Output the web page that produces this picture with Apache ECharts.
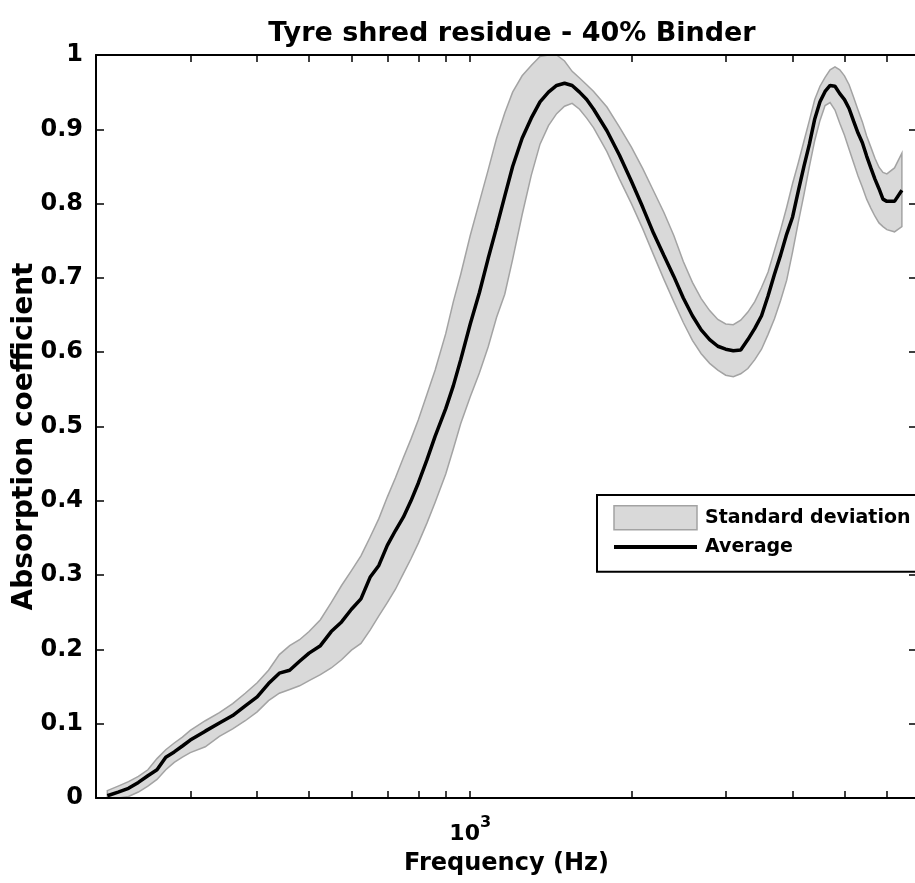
<!DOCTYPE html>
<html>
<head>
<meta charset="utf-8">
<script src="https://cdn.jsdelivr.net/npm/echarts@6/dist/echarts.min.js"></script>
<style>
  html, body { margin: 0; padding: 0; overflow: hidden; background: #fff; }
  #chart { width: 920px; height: 883px; }
</style>
</head>
<body>
<div id="chart"></div>
<script>
// frequency points (Hz)
const freqs = [
  210, 220, 230, 240, 250, 260, 270, 280, 290, 300,
  320, 340, 360, 380, 400, 420, 440, 460, 480, 500,
  525, 550, 575, 600, 625, 650, 675, 700, 725, 750,
  775, 800, 830, 860, 900, 930, 960, 1000, 1040, 1080,
  1120, 1160, 1200, 1250, 1300, 1350, 1400, 1450, 1500, 1550,
  1600, 1650, 1700, 1800, 1900, 2000, 2100, 2200, 2300, 2400,
  2500, 2600, 2700, 2800, 2900, 3000, 3100, 3200, 3300, 3400,
  3500, 3600, 3700, 3800, 3900, 4000, 4100, 4200, 4300, 4400,
  4500, 4600, 4700, 4800, 4900, 5000, 5100, 5200, 5300, 5400,
  5500, 5600, 5700, 5800, 5900, 6000, 6200, 6400
];
const average = [
  0.003, 0.008, 0.013, 0.021, 0.030, 0.038, 0.055, 0.062, 0.070, 0.078,
  0.090, 0.101, 0.111, 0.124, 0.136, 0.154, 0.168, 0.172, 0.184, 0.195,
  0.205, 0.224, 0.237, 0.254, 0.268, 0.297, 0.313, 0.340, 0.360, 0.378,
  0.400, 0.424, 0.455, 0.487, 0.524, 0.555, 0.590, 0.638, 0.680, 0.726,
  0.768, 0.810, 0.850, 0.888, 0.915, 0.937, 0.950, 0.959, 0.962, 0.959,
  0.950, 0.940, 0.927, 0.898, 0.865, 0.830, 0.795, 0.760, 0.730, 0.702,
  0.673, 0.649, 0.630, 0.617, 0.608, 0.604, 0.602, 0.603, 0.617, 0.632,
  0.649, 0.676, 0.705, 0.731, 0.759, 0.782, 0.817, 0.850, 0.880, 0.914,
  0.937, 0.951, 0.959, 0.958, 0.948, 0.940, 0.928, 0.911, 0.895, 0.882,
  0.864, 0.848, 0.833, 0.820, 0.806, 0.803, 0.803, 0.818
];
const upperBound = [
  0.010, 0.016, 0.022, 0.029, 0.038, 0.053, 0.065, 0.074, 0.082, 0.091,
  0.104, 0.115, 0.127, 0.141, 0.155, 0.172, 0.193, 0.205, 0.213, 0.224,
  0.240, 0.263, 0.286, 0.306, 0.326, 0.351, 0.376, 0.405, 0.431, 0.458,
  0.483, 0.509, 0.543, 0.576, 0.625, 0.668, 0.705, 0.757, 0.802, 0.845,
  0.888, 0.922, 0.950, 0.972, 0.986, 0.998, 1.000, 1.000, 0.992, 0.978,
  0.969, 0.960, 0.951, 0.930, 0.903, 0.876, 0.847, 0.817, 0.788, 0.757,
  0.722, 0.694, 0.672, 0.656, 0.644, 0.638, 0.637, 0.643, 0.654, 0.668,
  0.687, 0.708, 0.737, 0.765, 0.795, 0.827, 0.855, 0.884, 0.912, 0.940,
  0.958, 0.970, 0.980, 0.984, 0.980, 0.972, 0.960, 0.943, 0.926, 0.910,
  0.891, 0.876, 0.861, 0.849, 0.842, 0.840, 0.848, 0.868
];
const lowerBound = [
  0.000, 0.000, 0.002, 0.008, 0.016, 0.025, 0.038, 0.048, 0.055, 0.061,
  0.069, 0.083, 0.093, 0.104, 0.116, 0.131, 0.141, 0.146, 0.151, 0.158,
  0.166, 0.175, 0.186, 0.199, 0.208, 0.226, 0.245, 0.263, 0.281, 0.302,
  0.322, 0.343, 0.370, 0.398, 0.436, 0.470, 0.504, 0.540, 0.572, 0.607,
  0.647, 0.678, 0.725, 0.785, 0.838, 0.880, 0.905, 0.921, 0.931, 0.935,
  0.927, 0.915, 0.902, 0.870, 0.833, 0.800, 0.766, 0.731, 0.698, 0.668,
  0.640, 0.616, 0.598, 0.585, 0.576, 0.569, 0.567, 0.571, 0.578, 0.590,
  0.604, 0.624, 0.645, 0.670, 0.697, 0.735, 0.775, 0.812, 0.850, 0.885,
  0.912, 0.932, 0.936, 0.926, 0.908, 0.892, 0.873, 0.855, 0.837, 0.822,
  0.806, 0.794, 0.783, 0.774, 0.769, 0.765, 0.762, 0.769
];
const xTickValues = [300, 400, 500, 600, 700, 800, 900, 1000, 2000, 3000, 4000, 5000, 6000];
const xLabelValues = [1000];

const font = 'DejaVu Sans, Verdana, sans-serif';
const bandFill = '#d9d9d9';
const bandEdge = '#a3a3a3';

const chart = echarts.init(document.getElementById('chart'));

const axisLine = { show: true, onZero: false, lineStyle: { color: '#000', width: 2 } };
const tickStyle = { color: '#000', width: 1.5 };

chart.setOption({
  animation: false,
  backgroundColor: '#fff',
  title: {
    text: 'Tyre shred residue - 40% Binder',
    left: 507,
    top: 15,
    textAlign: 'center',
    textStyle: { fontFamily: font, fontWeight: 'bold', fontSize: 27, color: '#000' }
  },
  grid: { left: 96, right: 3, top: 55, bottom: 85, containLabel: false, outerBoundsMode: 'none' },
  legend: {
    orient: 'vertical',
    left: 597,
    top: 495,
    z: 20,
    selectedMode: false,
    backgroundColor: '#fff',
    borderColor: '#000',
    borderWidth: 2,
    borderRadius: 0,
    padding: [10, 40, 15, 15],
    itemWidth: 83,
    itemHeight: 24,
    itemGap: 7,
    textStyle: { fontFamily: font, fontWeight: 'bold', fontSize: 19, color: '#000', padding: [0, 0, 0, 3] },
    data: [
      { name: 'Standard deviation', icon: 'rect',
        itemStyle: { color: bandFill, borderColor: bandEdge, borderWidth: 1.5 } },
      { name: 'Average', itemStyle: { opacity: 0 }, lineStyle: { color: '#000', width: 4 } }
    ]
  },
  xAxis: [
    {
      type: 'log',
      min: 200,
      max: 6830,
      position: 'bottom',
      z: 10,
      name: 'Frequency (Hz)',
      nameLocation: 'middle',
      nameGap: 54,
      nameTextStyle: { fontFamily: font, fontWeight: 'bold', fontSize: 24, color: '#000' },
      axisLine: axisLine,
      axisTick: { show: true, inside: true, length: 7, customValues: xTickValues, lineStyle: tickStyle },
      axisLabel: {
        customValues: xLabelValues,
        margin: 17,
        formatter: () => '{b|10}{s|3}',
        rich: {
          b: { fontFamily: font, fontWeight: 'bold', fontSize: 22, color: '#000', lineHeight: 30, verticalAlign: 'bottom' },
          s: { fontFamily: font, fontWeight: 'bold', fontSize: 16, color: '#000', verticalAlign: 'top' }
        }
      },
      splitLine: { show: false },
      minorTick: { show: false }
    },
    {
      type: 'log',
      min: 200,
      max: 6830,
      position: 'top',
      z: 10,
      axisLine: axisLine,
      axisTick: { show: true, inside: true, length: 7, customValues: xTickValues, lineStyle: tickStyle },
      axisLabel: { show: false },
      splitLine: { show: false }
    }
  ],
  yAxis: [
    {
      type: 'value',
      min: 0,
      max: 1,
      interval: 0.1,
      position: 'left',
      z: 10,
      name: 'Absorption coefficient',
      nameLocation: 'middle',
      nameRotate: 90,
      nameGap: 57,
      nameMoveOverlap: false,
      nameTextStyle: { fontFamily: font, fontWeight: 'bold', fontSize: 28, color: '#000', padding: [0, 20, 0, 0] },
      axisLine: axisLine,
      axisTick: { show: true, inside: true, length: 8, lineStyle: tickStyle },
      axisLabel: {
        margin: 13,
        fontFamily: font, fontWeight: 'bold', fontSize: 24, color: '#000',
        formatter: (v) => (v === 0 || v === 1) ? String(v) : v.toFixed(1)
      },
      splitLine: { show: false }
    },
    {
      type: 'value',
      min: 0,
      max: 1,
      interval: 0.1,
      position: 'right',
      z: 10,
      axisLine: axisLine,
      axisTick: { show: true, inside: true, length: 8, lineStyle: tickStyle },
      axisLabel: { show: false },
      splitLine: { show: false }
    }
  ],
  series: [
    {
      // standard deviation band: one polygon, upper edge forward, lower edge back
      name: 'Standard deviation',
      type: 'custom',
      clip: true,
      data: freqs.map((f, i) => [f, lowerBound[i], upperBound[i]]),
      encode: { x: 0, y: [1, 2] },
      itemStyle: { color: bandFill, borderColor: bandEdge, borderWidth: 1.5 },
      renderItem: (params, api) => {
        if (params.dataIndex !== 0) return null;
        const top = freqs.map((f, i) => api.coord([f, upperBound[i]]));
        const bottom = freqs.map((f, i) => api.coord([f, lowerBound[i]])).reverse();
        return {
          type: 'polygon',
          shape: { points: top.concat(bottom) },
          style: { fill: bandFill, stroke: bandEdge, lineWidth: 1.5 }
        };
      },
      z: 2
    },
    {
      name: 'Average',
      type: 'line',
      data: freqs.map((f, i) => [f, average[i]]),
      symbol: 'none',
      lineStyle: { color: '#000', width: 3.5 },
      itemStyle: { color: '#000' },
      z: 5
    }
  ]
});
</script>
</body>
</html>
